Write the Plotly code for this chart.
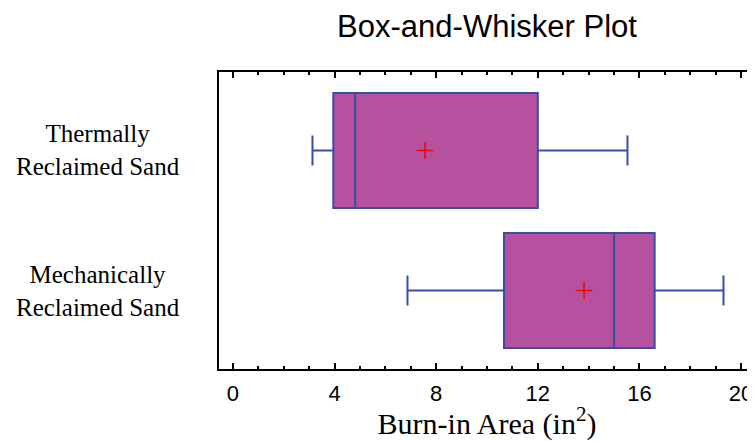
import plotly.graph_objects as go

groups = ["Mechanically<br>Reclaimed Sand", "Thermally<br>Reclaimed Sand"]
positions = [0, 1]
lower_whisker = [6.87, 3.13]
q1_vals = [10.67, 3.95]
medians = [15.0, 4.81]
q3_vals = [16.6, 12.0]
upper_whisker = [19.31, 15.53]
means = [13.82, 7.56]
x_ticks = [0, 4, 8, 12, 16, 20]

fill = "rgb(181,81,158)"
edge = "rgb(55,78,168)"

fig = go.Figure()
for i in range(len(groups)):
    fig.add_trace(go.Box(
        y=[positions[i]], orientation="h",
        q1=[q1_vals[i]], median=[medians[i]], q3=[q3_vals[i]],
        lowerfence=[lower_whisker[i]], upperfence=[upper_whisker[i]],
        width=0.82, whiskerwidth=0.26,
        fillcolor=fill, line=dict(color=edge, width=2),
        boxpoints=False, showlegend=False, hoverinfo="skip",
    ))
fig.add_trace(go.Scatter(
    x=means, y=positions, mode="markers",
    marker=dict(symbol="cross-thin", size=12, line=dict(color="red", width=1.6)),
    showlegend=False, hoverinfo="skip",
))

for i in range(len(groups)):
    fig.add_annotation(
        x=-0.2257, xref="paper", y=positions[i], yref="y",
        text=groups[i], showarrow=False, xanchor="center", align="center",
        font=dict(family="Liberation Serif, Times New Roman, serif", size=25, color="black"),
    )

fig.update_layout(
    width=747, height=433,
    margin=dict(l=211, r=0, t=64, b=72),
    paper_bgcolor="white", plot_bgcolor="white",
    title=dict(text="Box-and-Whisker Plot", xref="paper", x=0.5, xanchor="center",
               yref="container", y=0.958, yanchor="middle",
               font=dict(family="Liberation Sans, Arial, sans-serif", size=31, color="black")),
    xaxis=dict(
        range=[-0.55, 20.55], tickvals=x_ticks, ticks="inside", ticklen=6, tickwidth=2,
        tickcolor="black", showline=True, linecolor="black", linewidth=2, mirror="ticks",
        showgrid=False, zeroline=False, ticklabelstandoff=4,
        minor=dict(dtick=1, ticks="inside", ticklen=3, tickwidth=1.5, tickcolor="black", showgrid=False),
        tickfont=dict(family="Liberation Sans, Arial, sans-serif", size=22, color="black"),
        title=dict(text="Burn-in Area (in<sup>2</sup>)", standoff=2,
                   font=dict(family="Liberation Serif, Times New Roman, serif", size=30, color="black")),
    ),
    yaxis=dict(
        range=[-0.56, 1.56], showticklabels=False, ticks="", showline=True, linecolor="black",
        linewidth=2, mirror=False, showgrid=False, zeroline=False,
    ),
)

fig.write_html("out.html")
